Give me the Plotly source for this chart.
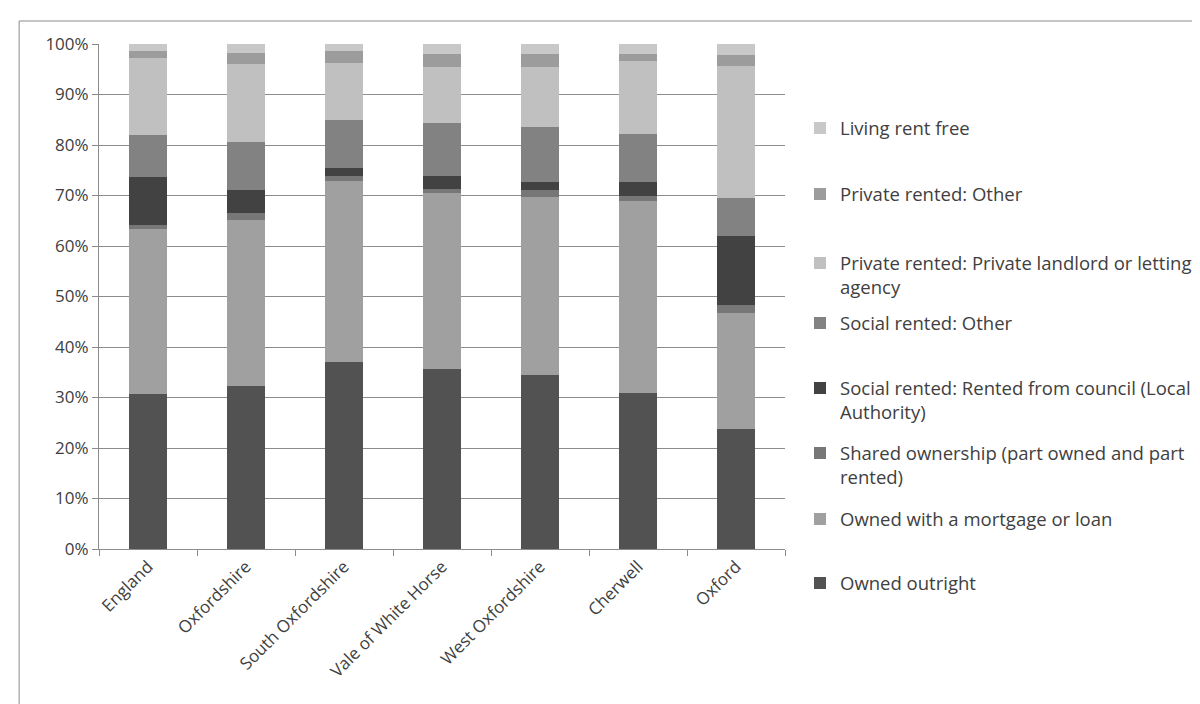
import plotly.graph_objects as go

areas = ["England", "Oxfordshire", "South Oxfordshire", "Vale of White Horse",
         "West Oxfordshire", "Cherwell", "Oxford"]

owned_outright = [30.6, 32.2, 37.0, 35.7, 34.4, 30.9, 23.8]
owned_mortgage = [32.8, 33.0, 35.9, 34.7, 35.4, 38.1, 22.9]
shared_ownership = [0.8, 1.3, 0.9, 0.9, 1.2, 1.0, 1.6]
social_council = [9.4, 4.5, 1.6, 2.5, 1.6, 2.6, 13.6]
social_other = [8.3, 9.5, 9.6, 10.6, 10.9, 9.6, 7.7]
private_landlord = [15.4, 15.5, 11.2, 11.0, 11.9, 14.4, 26.1]
private_other = [1.4, 2.2, 2.4, 2.7, 2.7, 1.5, 2.2]
rent_free = [1.3, 1.8, 1.4, 1.9, 1.9, 1.9, 2.1]

series = [
    ("Owned outright", owned_outright, "#525252"),
    ("Owned with a mortgage or loan", owned_mortgage, "#a0a0a0"),
    ("Shared ownership (part owned and part<br>rented)", shared_ownership, "#777777"),
    ("Social rented: Rented from council (Local<br>Authority)", social_council, "#424242"),
    ("Social rented: Other", social_other, "#828282"),
    ("Private rented: Private landlord or letting<br>agency", private_landlord, "#c0c0c0"),
    ("Private rented: Other", private_other, "#9c9c9c"),
    ("Living rent free", rent_free, "#c8c8c8"),
]

# plot-area geometry in pixels
L, R, T, B = 91, 778, 36, 541
W, H = R - L, B - T

def px_x(x):
    return (x - L) / W

def px_y(y):
    return (B - y) / H

# first-line centre of each legend entry (pixels), bottom series first
legend_centres = [577, 513, 447, 382, 317, 257, 188, 122]
LEG_FONT = 18.5
TICK_FONT = 17

fig = go.Figure()
layout_legends = {}
for i, (name, vals, col) in enumerate(series):
    lg = "legend" if i == 0 else f"legend{i+1}"
    fig.add_trace(go.Bar(
        x=areas, y=vals, name=name, marker=dict(color=col, line=dict(width=0)),
        legend=lg,
    ))
    layout_legends[lg] = dict(
        x=px_x(792), y=px_y(legend_centres[i] - 20.5), xanchor="left", yanchor="top",
        bgcolor="rgba(0,0,0,0)", valign="top",
        font=dict(family="Open Sans", size=LEG_FONT, color="#404040"),
    )

fig.update_layout(
    barmode="stack",
    bargap=0.61,
    width=1200, height=704,
    margin=dict(l=L, r=1200 - R, t=T, b=704 - B),
    paper_bgcolor="white", plot_bgcolor="white",
    font=dict(family="Open Sans", size=TICK_FONT, color="#404040"),
    showlegend=True,
    **layout_legends,
)
fig.update_yaxes(
    range=[0, 100], tickvals=[0, 10, 20, 30, 40, 50, 60, 70, 80, 90, 100],
    ticktext=["0%", "10%", "20%", "30%", "40%", "50%", "60%", "70%", "80%", "90%", "100%"],
    showgrid=True, gridcolor="#8c8c8c", gridwidth=1,
    showline=True, linecolor="#8c8c8c", linewidth=1,
    ticks="outside", ticklen=6, tickcolor="#8c8c8c",
    zeroline=False, fixedrange=True,
)
fig.update_xaxes(
    tickangle=-45, showline=True, linecolor="#8c8c8c", linewidth=1,
    ticks="outside", tickson="boundaries", ticklen=6, tickcolor="#8c8c8c",
    showgrid=False,
)
fig.add_shape(type="rect", xref="paper", yref="paper",
              x0=px_x(11), x1=px_x(1210), y0=px_y(715), y1=px_y(13),
              line=dict(color="#8c8c8c", width=1), fillcolor="rgba(0,0,0,0)",
              layer="below")

fig.write_html("out.html")
